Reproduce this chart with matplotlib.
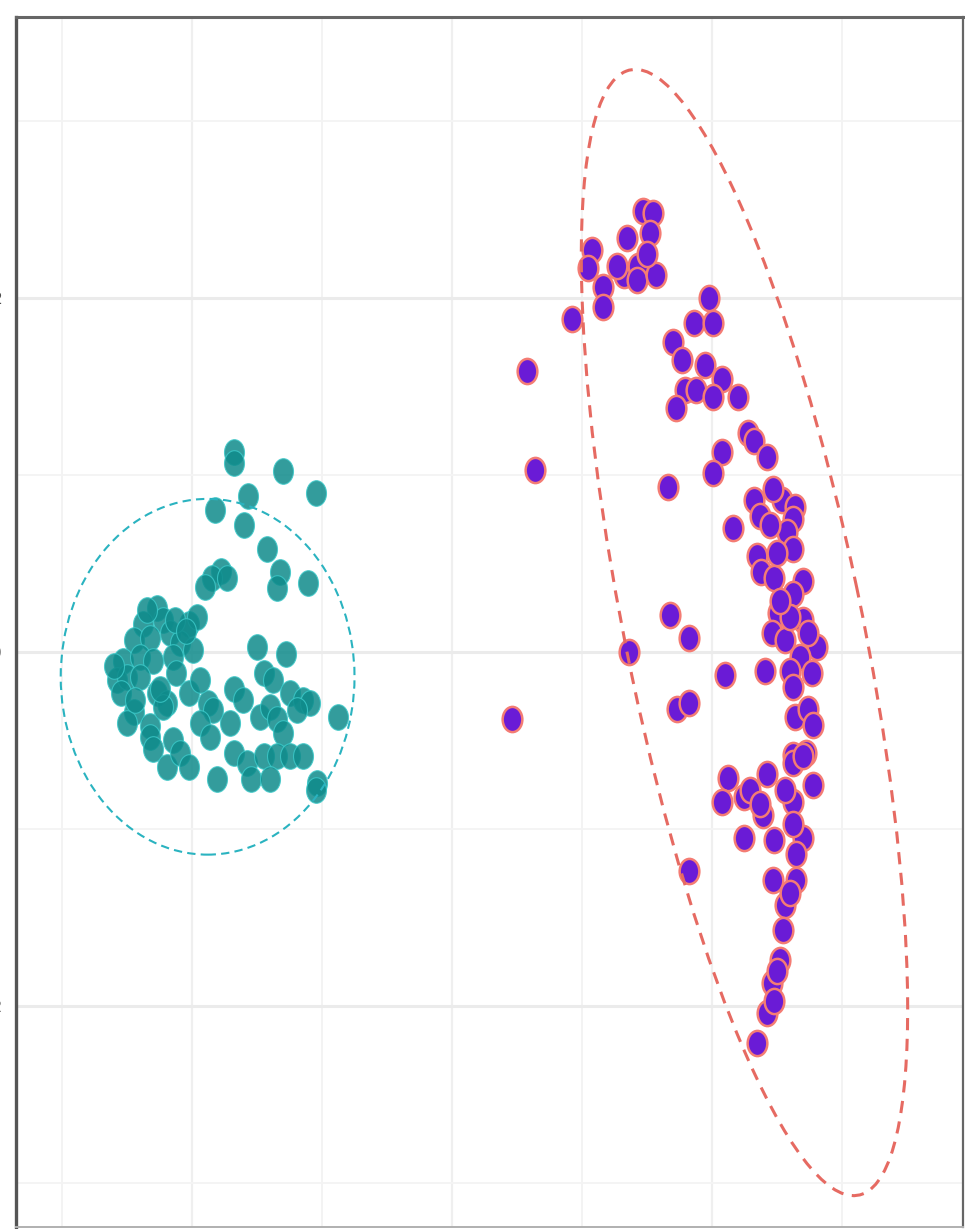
import numpy as np
import matplotlib
matplotlib.use("Agg")
import matplotlib.pyplot as plt
from matplotlib.path import Path
from matplotlib.markers import MarkerStyle
from matplotlib.transforms import Affine2D
from matplotlib.patches import Ellipse

# cluster 1 (teal)
teal_x = [-1.68, -1.68, -1.30, -1.05, -1.57, -1.82, -1.60, -1.42, -1.32, -1.35,
          -1.11, -1.78, -1.85, -1.90, -1.73, -2.27, -2.38, -2.22, -2.02, -1.96,
          -2.45, -2.32, -2.17, -2.09, -1.99, -2.53, -2.40, -2.30, -2.15, -2.58,
          -2.50, -2.40, -2.12, -2.55, -2.27, -2.19, -2.02, -2.45, -2.50, -2.32,
          -2.22, -1.50, -1.28, -1.45, -1.38, -1.25, -1.15, -1.09, -0.88, -1.68,
          -1.61, -1.71, -1.88, -1.84, -1.94, -1.86, -1.48, -1.40, -1.35, -1.30,
          -1.19, -2.32, -2.15, -2.30, -2.19, -2.09, -2.02, -1.81, -1.68, -1.58,
          -1.45, -1.35, -1.25, -1.15, -1.55, -1.40, -1.04, -1.05, -2.35, -2.13,
          -2.25, -2.44, -1.94, -2.05, -2.60]
teal_y = [1.13, 1.07, 1.02, 0.90, 0.88, 0.80, 0.72, 0.58, 0.45, 0.36,
          0.39, 0.46, 0.42, 0.37, 0.42, 0.25, 0.16, 0.18, 0.16, 0.20,
          0.07, 0.08, 0.11, 0.05, 0.01, -0.05, -0.03, -0.05, -0.03, -0.16,
          -0.14, -0.14, -0.12, -0.23, -0.23, -0.29, -0.23, -0.34, -0.40, -0.42,
          -0.31, 0.03, -0.01, -0.12, -0.16, -0.23, -0.27, -0.29, -0.37, -0.21,
          -0.27, -0.40, -0.29, -0.33, -0.40, -0.48, -0.37, -0.31, -0.38, -0.46,
          -0.33, -0.48, -0.50, -0.55, -0.65, -0.57, -0.65, -0.72, -0.57, -0.63,
          -0.59, -0.59, -0.59, -0.59, -0.72, -0.72, -0.74, -0.78, 0.24, 0.18,
          -0.21, -0.27, -0.16, 0.12, -0.08]

# cluster 2 (purple)
purple_x = [1.47, 1.55, 1.35, 1.52, 1.08, 1.05, 1.16, 1.16, 1.32, 1.43,
            1.42, 1.27, 1.57, 1.50, 0.92, 0.58, 0.64, 1.98, 1.86, 2.01,
            1.70, 1.77, 1.95, 2.08, 1.79, 1.88, 2.01, 1.72, 2.20, 2.28,
            2.08, 2.01, 1.66, 2.32, 2.42, 2.32, 2.37, 2.54, 2.64, 2.47,
            2.62, 2.58, 2.16, 2.62, 2.35, 2.38, 2.48, 2.70, 2.50, 2.62,
            2.51, 2.70, 2.46, 2.56, 2.81, 2.74, 2.68, 2.60, 2.77, 2.62,
            1.68, 1.82, 2.10, 2.41, 1.73, 1.82, 2.64, 2.74, 2.78, 2.62,
            2.72, 1.36, 0.46, 2.12, 2.08, 2.25, 2.42, 2.62, 2.70, 2.78,
            2.39, 2.25, 2.48, 2.62, 2.70, 2.65, 2.47, 2.65, 2.56, 2.55,
            2.52, 2.46, 2.42, 2.35, 1.82, 2.62, 2.60, 2.50, 2.48, 2.29,
            2.37, 2.56, 2.60, 2.45, 2.52]
purple_y = [2.49, 2.48, 2.34, 2.37, 2.27, 2.17, 2.06, 1.95, 2.13, 2.18,
            2.10, 2.18, 2.13, 2.25, 1.88, 1.59, 1.03, 2.00, 1.86, 1.86,
            1.75, 1.65, 1.62, 1.54, 1.48, 1.48, 1.44, 1.38, 1.44, 1.24,
            1.13, 1.01, 0.93, 1.19, 1.10, 0.86, 0.77, 0.86, 0.82, 0.92,
            0.75, 0.68, 0.70, 0.58, 0.54, 0.45, 0.42, 0.40, 0.56, 0.33,
            0.22, 0.18, 0.11, 0.07, 0.03, 0.11, -0.03, -0.11, -0.12, -0.20,
            0.21, 0.08, -0.13, -0.11, -0.32, -0.29, -0.37, -0.32, -0.41, -0.58,
            -0.57, 0.00, -0.38, -0.71, -0.85, -0.82, -0.69, -0.63, -0.59, -0.75,
            -0.92, -1.05, -1.06, -0.85, -1.05, -1.14, -1.29, -1.29, -1.43, -1.57,
            -1.74, -1.87, -2.04, -2.21, -1.24, -0.97, -1.36, -1.80, -1.97, -0.78,
            -0.86, -0.78, 0.20, 0.72, 0.29]

# confidence ellipses: centre x, centre y, width, height, angle
teal_ell = [-1.88, -0.14, 2.26, 2.01, 0]
purple_ell = [2.25, 0.11, 6.60, 1.80, 106.0]

fig = plt.figure(figsize=(9.65, 12.29), dpi=100)
ax = fig.add_axes([16/965, 2/1229, 947/965, 1210/1229])
ax.set_xlim(-3.354, 3.931)
ax.set_ylim(-3.249, 3.588)

# ggplot-ish grid
ax.set_xticks([-2, 0, 2])
ax.set_xticks([-3, -1, 1, 3], minor=True)
ax.set_yticks([-2, 0, 2])
ax.set_yticks([-3, -1, 1, 3], minor=True)
ax.set_yticklabels(["-2", "0", "2"])
ax.set_xticklabels([])
ax.tick_params(which="both", length=0)
ax.tick_params(axis="y", pad=10, labelcolor="#4d4d4d", labelsize=11)
ax.xaxis.grid(True, which="major", color="#efefef", lw=1.6)
ax.xaxis.grid(True, which="minor", color="#f3f3f3", lw=1.4)
ax.yaxis.grid(True, which="major", color="#ebebeb", lw=2.2)
ax.yaxis.grid(True, which="minor", color="#f4f4f4", lw=1.4)
ax.set_axisbelow(True)

for side, col, w in [("left", "#555555", 2.4), ("top", "#666666", 2.2),
                     ("right", "#666666", 1.6), ("bottom", "#b0b0b0", 1.4)]:
    ax.spines[side].set_color(col)
    ax.spines[side].set_linewidth(w)

ell_path = Path.unit_circle().transformed(Affine2D().scale(0.78, 1.0))
mk = MarkerStyle(ell_path)

ax.scatter(teal_x, teal_y, marker=mk, s=340, facecolor="#0f8b8b",
           edgecolor="#3cc8c8", linewidths=0.8, alpha=0.85, zorder=3)
ax.scatter(purple_x, purple_y, marker=mk, s=330, facecolor="#6a1bd6",
           edgecolor="#f47c74", linewidths=1.8, zorder=3)

cx, cy, w, h, a = teal_ell
ax.add_patch(Ellipse((cx, cy), w, h, angle=a, fill=False, ec="#2ab3c0",
                     lw=1.5, ls=(0, (4, 2.5)), zorder=4))
cx, cy, w, h, a = purple_ell
ax.add_patch(Ellipse((cx, cy), w, h, angle=a, fill=False, ec="#e66a62",
                     lw=2.2, ls=(0, (4, 2.8)), zorder=4))

fig.savefig("out.png", dpi=100)
